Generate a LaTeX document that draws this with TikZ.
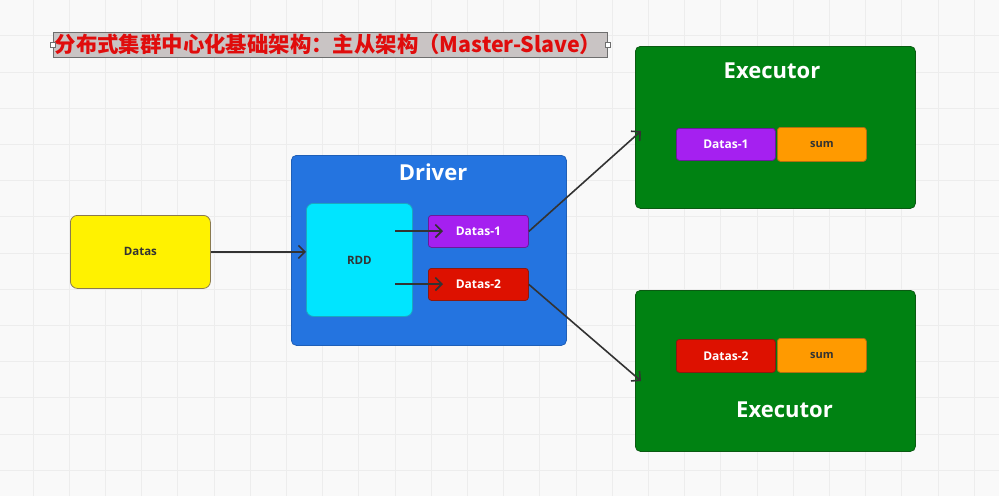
\documentclass[tikz,border=0pt]{standalone}
\usepackage{fontspec}
\setmainfont{Open Sans}
\newfontfamily\cjk{Noto Sans CJK SC}
\usetikzlibrary{arrows.meta}
\definecolor{bgc}{HTML}{F9F9F9}
\definecolor{gridc}{HTML}{EDEDED}
\definecolor{drvblue}{HTML}{2474E0}
\definecolor{drvedge}{HTML}{1E5FB8}
\definecolor{exgreen}{HTML}{008212}
\definecolor{exedge}{HTML}{0A5A12}
\definecolor{yel}{HTML}{FFF200}
\definecolor{yeledge}{HTML}{8A7A50}
\definecolor{cyanc}{HTML}{00E5FF}
\definecolor{cyanedge}{HTML}{1AA8C0}
\definecolor{purp}{HTML}{A520F0}
\definecolor{purpedge}{HTML}{6A1A9A}
\definecolor{redc}{HTML}{DD1100}
\definecolor{rededge}{HTML}{8A1A10}
\definecolor{oran}{HTML}{FF9A00}
\definecolor{oranedge}{HTML}{B07010}
\definecolor{titlefill}{HTML}{C9C4C4}
\definecolor{titleedge}{HTML}{6E6E6E}
\definecolor{titlered}{HTML}{E00C0C}
\definecolor{darktext}{HTML}{333333}
\definecolor{arrowc}{HTML}{333333}
\tikzset{
  box/.style={rounded corners=5pt, inner sep=0pt, line width=0.8pt, anchor=north west},
  lbl/.style={font=\bfseries\fontsize{12}{14}\selectfont},
  big/.style={font=\bfseries\fontsize{22}{26}\selectfont, text=white},
  conn/.style={draw=arrowc, line width=1.6pt, -{Straight Barb[length=6.5pt,width=13pt,line width=1.6pt]}},
  handle/.style={draw=titleedge, fill=white, line width=0.6pt, minimum size=4.5pt, inner sep=0pt}
}
\begin{document}
\begin{tikzpicture}[x=1pt,y=-1pt]
\useasboundingbox (0,0) rectangle (999,496);
\fill[bgc] (0,0) rectangle (999,496);
\foreach \i in {0,...,27} {\draw[gridc, line width=0.8pt] (33+36.2*\i,0) -- (33+36.2*\i,496);}
\foreach \j in {-1,...,12} {\draw[gridc, line width=0.8pt] (0,72+36.2*\j) -- (999,72+36.2*\j);}

% title
\node[draw=titleedge, fill=titlefill, line width=0.8pt, inner sep=0pt, minimum width=554pt, minimum height=25pt, anchor=north west] (title) at (53,32) {};
\node[font=\cjk\bfseries\fontsize{21.4}{24}\selectfont, text=titlered, inner sep=0pt] (titletext) at (328,44.5) {分布式集群中心化基础架构：主从架构（Master-Slave）};
\node[handle] (h1) at (title.west) {};
\node[handle] (h2) at (title.east) {};

% Datas
\node[box, draw=yeledge, fill=yel, minimum width=140pt, minimum height=73pt, rounded corners=7pt] (datas) at (70,215) {};
\node[lbl, text=darktext, font=\bfseries\fontsize{11.5}{14}\selectfont] (datast) at (datas.center) {Datas};

% Driver
\node[box, draw=drvedge, fill=drvblue, minimum width=275pt, minimum height=190pt] (driver) at (291,155) {};
\node[big] (drivert) at (433,172) {Driver};
\node[box, draw=cyanedge, fill=cyanc, minimum width=106pt, minimum height=113pt, rounded corners=7pt] (rdd) at (306,203) {};
\node[lbl, text=darktext, font=\bfseries\fontsize{11.5}{14}\selectfont] (rddt) at (rdd.center) {RDD};
\node[box, draw=purpedge, fill=purp, minimum width=100pt, minimum height=32pt, rounded corners=3pt] (d1) at (428,215) {};
\node[lbl, text=white] (d1t) at (d1.center) {Datas-1};
\node[box, draw=rededge, fill=redc, minimum width=100pt, minimum height=32pt, rounded corners=3pt] (d2) at (428,268) {};
\node[lbl, text=white] (d2t) at (d2.center) {Datas-2};

% Executor 1
\node[box, draw=exedge, fill=exgreen, minimum width=280pt, minimum height=162pt] (ex1) at (635,46) {};
\node[big] (ex1t) at (772,71) {Executor};
\node[box, draw=purpedge, fill=purp, minimum width=99pt, minimum height=32pt, rounded corners=3pt] (e1d) at (676,128) {};
\node[lbl, text=white] (e1dt) at (e1d.center) {Datas-1};
\node[box, draw=oranedge, fill=oran, minimum width=89pt, minimum height=34pt, rounded corners=3pt] (e1s) at (777,127) {};
\node[lbl, text=darktext, font=\bfseries\fontsize{11}{13}\selectfont] (e1st) at (e1s.center) {sum};

% Executor 2
\node[box, draw=exedge, fill=exgreen, minimum width=280pt, minimum height=161pt] (ex2) at (635,290) {};
\node[big] (ex2t) at (784.5,410) {Executor};
\node[box, draw=rededge, fill=redc, minimum width=99pt, minimum height=33pt, rounded corners=3pt] (e2d) at (676,339) {};
\node[lbl, text=white] (e2dt) at (e2d.center) {Datas-2};
\node[box, draw=oranedge, fill=oran, minimum width=89pt, minimum height=34pt, rounded corners=3pt] (e2s) at (777,338) {};
\node[lbl, text=darktext, font=\bfseries\fontsize{11}{13}\selectfont] (e2st) at (e2s.center) {sum};

% connectors
\coordinate (r1) at (395,231);
\coordinate (r2) at (395,284);
\coordinate (a1) at (443,231);
\coordinate (a2) at (443,284);
\coordinate (t1) at (641,131);
\coordinate (t2) at (641,381);
\draw[conn] (datas.east) -- (rdd.west |- datas.east);
\draw[conn] (r1) -- (a1);
\draw[conn] (r2) -- (a2);
\draw[conn] (d1.east) -- (t1);
\draw[conn] (d2.east) -- (t2);
\end{tikzpicture}
\end{document}
